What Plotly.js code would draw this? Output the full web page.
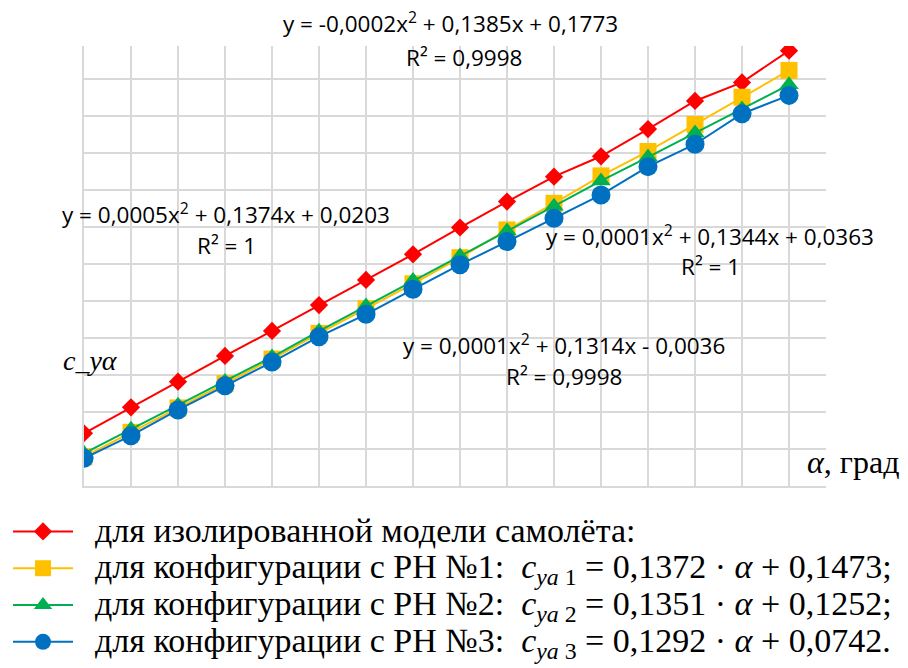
<!DOCTYPE html>
<html>
<head>
<meta charset="utf-8">
<script src="https://cdn.plot.ly/plotly-3.0.1.min.js"></script>
<style>html,body{margin:0;padding:0;background:#fff;}#chart{width:908px;height:668px;}</style>
</head>
<body>
<div id="chart"></div>
<script>
// α, degrees
var alpha = [0,1,2,3,4,5,6,7,8,9,10,11,12,13,14,15];
// isolated aircraft model
var cyIsolated = [0.285,0.425,0.564,0.703,0.838,0.978,1.114,1.252,1.397,1.537,1.672,1.782,1.929,2.081,2.181,2.353];
// configuration with RN №1
var cyRN1 = [0.158,0.290,0.422,0.553,0.686,0.825,0.958,1.093,1.234,1.384,1.528,1.676,1.808,1.954,2.101,2.246];
// configuration with RN №2
var cyRN2 = [0.177,0.307,0.436,0.565,0.697,0.837,0.973,1.110,1.243,1.378,1.512,1.649,1.778,1.908,2.038,2.168];
// configuration with RN №3
var cyRN3 = [0.150,0.272,0.411,0.542,0.670,0.807,0.928,1.063,1.196,1.321,1.447,1.573,1.726,1.847,2.012,2.111];

var seriesNames = [
  'для изолированной модели самолёта:',
  'для конфигурации с РН №1:  <i>c</i><sub><i>ya</i> 1</sub> = 0,1372 · <i>α</i> + 0,1473;',
  'для конфигурации с РН №2:  <i>c</i><sub><i>ya</i> 2</sub> = 0,1351 · <i>α</i> + 0,1252;',
  'для конфигурации с РН №3:  <i>c</i><sub><i>ya</i> 3</sub> = 0,1292 · <i>α</i> + 0,0742.'
];
var trendEq = [
  'y = -0,0002x<sup>2</sup> + 0,1385x + 0,1773', 'R² = 0,9998',
  'y = 0,0005x<sup>2</sup> + 0,1374x + 0,0203', 'R² = 1',
  'y = 0,0001x<sup>2</sup> + 0,1344x + 0,0363', 'R² = 1',
  'y = 0,0001x<sup>2</sup> + 0,1314x - 0,0036', 'R² = 0,9998'
];

function lg(s){ return '<span style="font-family:Liberation Serif;font-size:34px">\u00A0\u00A0' + s + '</span>'; }

var traces = [
  {x: alpha, y: cyIsolated, name: lg(seriesNames[0]), mode: 'lines+markers',
   line: {color: '#FF0000', width: 2}, marker: {symbol: 'diamond', size: 14, color: '#FF0000'}},
  {x: alpha, y: cyRN1, name: lg(seriesNames[1]), mode: 'lines+markers',
   line: {color: '#FFC000', width: 2}, marker: {symbol: 'square', size: 17, color: '#FFC000'}},
  {x: alpha, y: cyRN2, name: lg(seriesNames[2]), mode: 'lines+markers',
   line: {color: '#00B050', width: 2}, marker: {symbol: 'triangle-up', size: 17, color: '#00B050'}},
  {x: alpha, y: cyRN3, name: lg(seriesNames[3]), mode: 'lines+markers',
   line: {color: '#0070C0', width: 2}, marker: {symbol: 'circle', size: 19, color: '#0070C0'}}
];

var L = 84, R = 826, T = 46, B = 486;
function px2x(px){ return (px - L) / (R - L); }
function px2y(py){ return (B - py) / (B - T); }
function ann(text, cx, cy, font, anchor){
  return {xref: 'paper', yref: 'paper', x: px2x(cx), y: px2y(cy),
    text: text, showarrow: false, xanchor: anchor || 'center', yanchor: 'middle', font: font};
}
var eqFont = {family: 'Open Sans', size: 22.5, color: '#000'};

var layout = {
  width: 908, height: 668,
  margin: {l: L, r: 908 - R, t: T, b: 668 - B, autoexpand: false},
  paper_bgcolor: '#fff', plot_bgcolor: '#fff',
  showlegend: true,
  xaxis: {range: [0, 15.787], tick0: 0, dtick: 1, showticklabels: false, ticks: '',
    showgrid: true, gridcolor: '#D9D9D9', gridwidth: 2, zeroline: false,
    showline: true, linecolor: '#D9D9D9', linewidth: 2, fixedrange: true},
  yaxis: {range: [0, 2.378], tick0: 0, dtick: 0.2, showticklabels: false, ticks: '',
    showgrid: true, gridcolor: '#D9D9D9', gridwidth: 2, zeroline: false,
    showline: true, linecolor: '#D9D9D9', linewidth: 2, fixedrange: true},
  legend: {x: px2x(8), y: px2y(508),
    xanchor: 'left', yanchor: 'top', itemwidth: 60, tracegroupgap: 0,
    bgcolor: 'rgba(0,0,0,0)', font: {family: 'Liberation Serif', size: 26, color: '#000'}},
  annotations: [
    ann(trendEq[0], 450, 22, eqFont), ann(trendEq[1], 464, 57, eqFont),
    ann(trendEq[2], 226, 213, eqFont), ann(trendEq[3], 226, 245, eqFont),
    ann(trendEq[4], 710, 235, eqFont), ann(trendEq[5], 710, 266, eqFont),
    ann(trendEq[6], 564, 344, eqFont), ann(trendEq[7], 564, 377, eqFont),
    ann('<i>c_yα</i>', 61, 360, {family: 'Liberation Serif', size: 28, color: '#000'}, 'left'),
    ann('<i>α</i>, град', 805, 462, {family: 'Liberation Serif', size: 32, color: '#000'}, 'left')
  ]
};

Plotly.newPlot('chart', traces, layout, {displayModeBar: false, staticPlot: true});
</script>
</body>
</html>
